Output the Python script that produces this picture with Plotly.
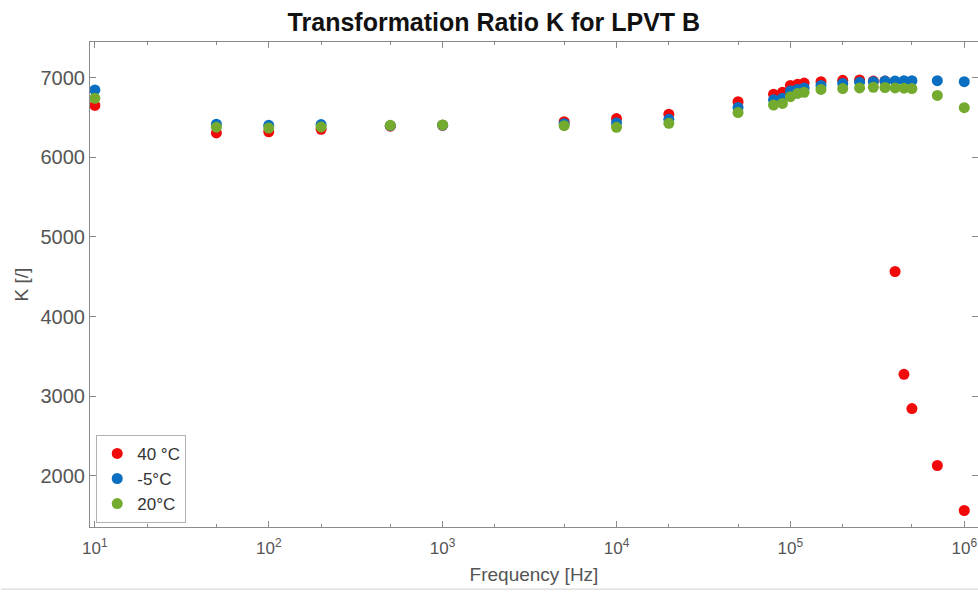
import plotly.graph_objects as go

# Frequencies [Hz]
freq = [10, 50, 100, 200, 500, 1000, 5000, 10000, 20000, 50000, 80000, 90000,
        100000, 110000, 120000, 150000, 200000, 250000, 300000, 350000,
        400000, 450000, 500000, 700000, 1000000]

# Transformation ratio K per temperature
k_40C = [6650, 6305, 6318, 6350, 6390, 6400, 6445, 6485, 6540, 6696, 6790, 6815,
         6900, 6915, 6930, 6948, 6965, 6970, 6955, 6955,
         4565, 3275, 2844, 2130, 1565]
k_m5C = [6845, 6415, 6400, 6410, 6395, 6402, 6420, 6430, 6475, 6625, 6720, 6740,
         6830, 6850, 6870, 6900, 6925, 6940, 6948, 6955,
         6958, 6960, 6960, 6960, 6948]
k_20C = [6740, 6377, 6365, 6380, 6400, 6405, 6395, 6375, 6425, 6560, 6655, 6675,
         6760, 6800, 6815, 6850, 6862, 6870, 6878, 6875,
         6870, 6866, 6862, 6775, 6622]

series_names = ["40 °C", "-5°C", "20°C"]
series_colors = ["#f00a0a", "#0a6fc0", "#74ab2e"]

x_tickvals = [10, 100, 1000, 10000, 100000, 1000000]
x_ticktext = ["10<sup>1</sup>", "10<sup>2</sup>", "10<sup>3</sup>",
              "10<sup>4</sup>", "10<sup>5</sup>", "10<sup>6</sup>"]
y_tickvals = [2000, 3000, 4000, 5000, 6000, 7000]

fig = go.Figure()
for name, vals, col in zip(series_names, [k_40C, k_m5C, k_20C], series_colors):
    fig.add_trace(go.Scatter(
        x=freq, y=vals, mode="markers", name=name,
        marker=dict(size=11, color=col, line=dict(width=0)),
    ))

axis_col = "#8a8a8a"
FONT = "Liberation Sans, Arial, sans-serif"
ytick_font = dict(family=FONT, size=20, color="#555555")
xtick_font = dict(family=FONT, size=17, color="#555555")
title_font = dict(family=FONT, size=19, color="#555555")

fig.update_layout(
    width=978, height=593,
    margin=dict(l=90, r=0, t=42, b=66),
    paper_bgcolor="white", plot_bgcolor="white",
    title=dict(text="<b>Transformation Ratio K for LPVT B</b>", x=0.505, xanchor="center",
               y=0.962, yanchor="middle",
               font=dict(family=FONT, size=25, color="#111111")),
    showlegend=True,
    legend=dict(x=0.007, y=0.19, xanchor="left", yanchor="top",
                bgcolor="white", bordercolor="#b0b0b0", borderwidth=1,
                font=dict(family=FONT, size=17, color="#333333"),
                itemwidth=30, tracegroupgap=0),
    xaxis=dict(type="log", range=[0.972, 6.079], automargin=False,
               tickvals=x_tickvals, ticktext=x_ticktext,
               showgrid=False, zeroline=False,
               showline=True, linecolor=axis_col, linewidth=1, mirror="ticks",
               ticks="inside", ticklen=6, tickcolor=axis_col,
               minor=dict(ticks="inside", ticklen=3, tickcolor=axis_col, showgrid=False),
               tickfont=xtick_font, ticklabelstandoff=6,
               title=dict(text="Frequency [Hz]", font=title_font, standoff=10)),
    yaxis=dict(range=[1358, 7446], tickvals=y_tickvals, automargin=False,
               showgrid=False, zeroline=False,
               showline=True, linecolor=axis_col, linewidth=1, mirror="ticks",
               ticks="inside", ticklen=6, tickcolor=axis_col,
               tickfont=ytick_font,
               title=dict(text="K [/]", font=title_font, standoff=6)),
)

fig.add_shape(type="line", xref="paper", yref="paper", x0=-0.1, x1=1.0,
              y0=-0.128, y1=-0.128, line=dict(color="#cfcfcf", width=1))

fig.write_html("out.html", config={"displayModeBar": False},
               post_script="document.body.style.margin='0';")
